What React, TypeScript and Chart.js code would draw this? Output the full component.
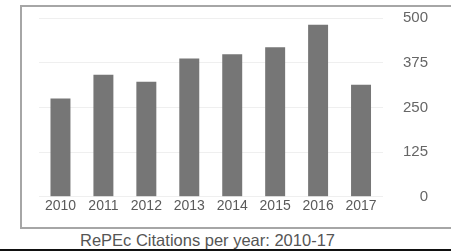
import React, { useEffect, useRef } from "react";
import { Chart, registerables } from "chart.js";

Chart.register(...registerables);

const years = ["2010", "2011", "2012", "2013", "2014", "2015", "2016", "2017"];
const citations = [275, 342, 322, 387, 399, 419, 482, 314];
const yTicks = [0, 125, 250, 375, 500];
const caption = "RePEc Citations per year: 2010-17";

export default function App() {
  const ref = useRef<HTMLCanvasElement | null>(null);

  useEffect(() => {
    if (!ref.current) return;
    const chart = new Chart(ref.current, {
      type: "bar",
      data: {
        labels: years,
        datasets: [
          {
            data: citations,
            backgroundColor: "#767676",
            borderWidth: 0,
            barPercentage: 0.465,
            categoryPercentage: 1,
          },
        ],
      },
      options: {
        animation: false,
        responsive: false,
        devicePixelRatio: 1,
        layout: { padding: { left: 18, right: 23, top: 12.3, bottom: 0 } },
        plugins: { legend: { display: false }, tooltip: { enabled: false } },
        scales: {
          x: {
            grid: { display: false, drawTicks: false },
            border: { display: false },
            ticks: {
              color: "#5a5a5a",
              font: { family: "Liberation Sans, Arial", size: 14 },
              padding: 1,
              maxRotation: 0,
              autoSkip: false,
            },
            afterFit: (s: any) => {
              s.height = 29.3;
            },
          },
          y: {
            position: "right",
            min: 0,
            max: 500,
            afterBuildTicks: (s: any) => {
              s.ticks = yTicks.map((v) => ({ value: v }));
            },
            grid: { color: "#efefef", drawTicks: false, lineWidth: 1 },
            border: { display: false },
            ticks: {
              color: "#666",
              crossAlign: "far",
              font: { family: "Liberation Sans, Arial", size: 15 },
              padding: 0,
            },
            afterFit: (s: any) => {
              s.width = 45.5;
            },
          },
        },
      },
    });
    return () => chart.destroy();
  }, []);

  return (
    <div style={{ position: "absolute", left: 0, top: 0, width: 451, height: 251, overflow: "hidden", background: "#fff" }}>
      <div
        style={{
          position: "absolute",
          left: 20,
          top: 5,
          width: 460,
          height: 220,
          border: "2px solid #a6a6a6",
        }}
      />
      <canvas
        ref={ref}
        width={430}
        height={220}
        style={{ position: "absolute", left: 21, top: 6, width: 430, height: 220 }}
      />
      <div
        style={{
          position: "absolute",
          left: 0,
          top: 231,
          width: 415,
          textAlign: "center",
          fontFamily: "Liberation Sans, Arial",
          fontSize: 16.5,
          lineHeight: "19px",
          color: "#555",
          whiteSpace: "nowrap",
        }}
      >
        {caption}
      </div>
      <div style={{ position: "absolute", left: 0, top: 249, width: 451, height: 2, background: "#111" }} />
    </div>
  );
}
